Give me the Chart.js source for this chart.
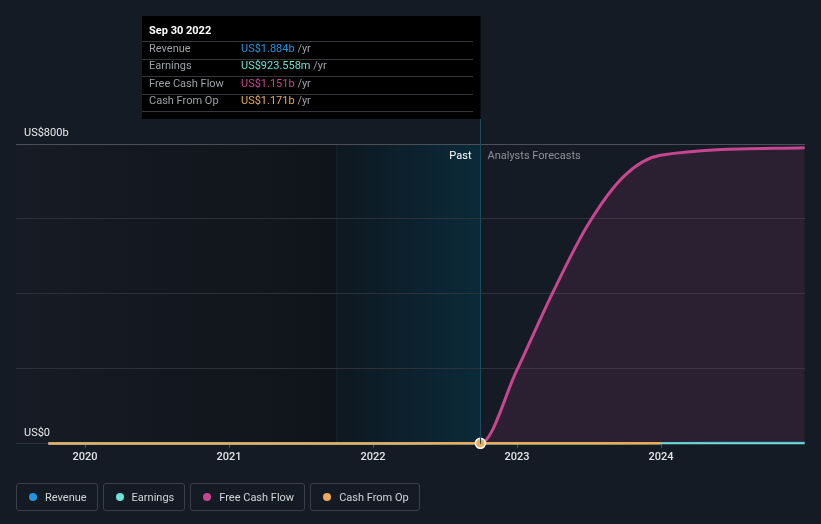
<!DOCTYPE html>
<html>
<head>
<meta charset="utf-8">
<script src="https://cdn.jsdelivr.net/npm/chart.js@4.4.1/dist/chart.umd.min.js"></script>
<style>
  html, body { margin: 0; padding: 0; background: #151b25; }
  #wrap { position: relative; width: 821px; height: 524px; font-family: Roboto, "Noto Sans", sans-serif; }
  #legend { position: absolute; left: 16px; top: 483px; display: flex; gap: 5px; }
  .item { box-sizing: border-box; height: 28px; border: 1px solid #3a3f48; border-radius: 3px;
          display: flex; align-items: center; padding: 0 10px 0 12px; color: #d2d5d9; font-size: 11px; }
  .dot { width: 8px; height: 8px; border-radius: 50%; margin-right: 8px; }
</style>
</head>
<body>
<div id="wrap">
  <canvas id="myChart" width="821" height="524"></canvas>
  <div id="legend"></div>
</div>
<script>
// series (values in US$ billions)
var pastDates = ['2019-09-30','2019-12-31','2020-03-31','2020-06-30','2020-09-30','2020-12-31',
                 '2021-03-31','2021-06-30','2021-09-30','2021-12-31','2022-03-31','2022-06-30','2022-09-30'];
var revenuePast  = [1.21, 1.25, 1.29, 1.33, 1.38, 1.45, 1.52, 1.60, 1.67, 1.74, 1.80, 1.85, 1.884];
var earningsPast = [0.52, 0.55, 0.57, 0.60, 0.63, 0.67, 0.71, 0.76, 0.80, 0.84, 0.88, 0.90, 0.923558];
var fcfPast      = [0.70, 0.73, 0.76, 0.79, 0.83, 0.88, 0.93, 0.98, 1.02, 1.06, 1.10, 1.13, 1.151];
var cfoPast      = [0.72, 0.75, 0.78, 0.81, 0.85, 0.90, 0.95, 1.00, 1.04, 1.08, 1.12, 1.15, 1.171];

var revenueFcDates  = ['2022-12-31','2023-12-31','2024-12-31'];
var revenueFc       = [2.05, 2.45, 2.85];
var earningsFcDates = ['2022-12-31','2023-12-31','2024-12-31'];
var earningsFc      = [1.00, 1.18, 1.36];
var fcfFcDates      = ['2022-12-31','2023-03-31','2023-06-30','2023-09-30','2023-12-31','2024-12-31'];
var fcfFc           = [195, 400, 585, 715, 770, 790];
var cfoFcDates      = ['2022-12-31','2023-12-31'];
var cfoFc           = [1.30, 1.50];

var xTicks = [2020, 2021, 2022, 2023, 2024];
var yTicks = [0, 200, 400, 600, 800];

var colors = {revenue: '#2394df', earnings: '#6ce3d4', fcf: '#c7468f', cfo: '#e9ac5d'};
var legendNames = ['Revenue', 'Earnings', 'Free Cash Flow', 'Cash From Op'];

function yearFrac(s) {
  var p = s.split('-').map(Number);
  var start = Date.UTC(p[0], 0, 1), end = Date.UTC(p[0] + 1, 0, 1);
  return p[0] + (Date.UTC(p[0], p[1] - 1, p[2]) - start) / (end - start);
}
function pts(dates, vals) {
  return dates.map(function (d, i) { return {x: yearFrac(d), y: vals[i]}; });
}

var pastEnd = yearFrac(pastDates[pastDates.length - 1]);
var hiStart = yearFrac('2021-09-30');
var last = pastDates.length - 1;

function fmt(v) {
  return v < 1 ? 'US$' + (v * 1000).toFixed(3) + 'm' : 'US$' + v.toFixed(3) + 'b';
}

var bgPlugin = {
  id: 'bg',
  beforeDraw: function (chart) {
    var c = chart.ctx, a = chart.chartArea, x = chart.scales.x;
    c.save();
    c.fillStyle = '#151b25';
    c.fillRect(0, 0, chart.width, chart.height);
    var xh = x.getPixelForValue(hiStart), xp = x.getPixelForValue(pastEnd);
    var g = c.createLinearGradient(a.left, 0, xh, 0);
    g.addColorStop(0, '#161b25');
    g.addColorStop(1, '#10141a');
    c.fillStyle = g;
    c.fillRect(a.left, a.top, xh - a.left, a.bottom - a.top);
    var g2 = c.createLinearGradient(xh, 0, xp, 0);
    g2.addColorStop(0, '#0e1820');
    g2.addColorStop(1, '#0b2a39');
    c.fillStyle = g2;
    c.fillRect(xh, a.top, xp - xh, a.bottom - a.top);
    c.fillStyle = 'rgba(40,80,100,0.25)';
    c.fillRect(xh, a.top, 1, a.bottom - a.top);
    c.restore();
  }
};

var overlayPlugin = {
  id: 'overlay',
  afterDraw: function (chart) {
    var c = chart.ctx, a = chart.chartArea, x = chart.scales.x;
    var xp = Math.round(x.getPixelForValue(pastEnd)) + 0.5;
    c.save();
    // past / forecast labels
    c.font = '11px Roboto';
    c.textBaseline = 'middle';
    c.textAlign = 'right';
    c.fillStyle = '#ffffff';
    c.fillText('Past', xp - 9, a.top + 12);
    c.textAlign = 'left';
    c.fillStyle = '#8c9198';
    c.fillText('Analysts Forecasts', xp + 7, a.top + 12);
    // tooltip box
    var bx = 142, by = 16, bw = xp - 142, bh = 103;
    c.fillStyle = '#000000';
    c.fillRect(bx, by, bw, bh);
    c.strokeStyle = '#1d4a5a';
    c.lineWidth = 1;
    c.beginPath();
    c.moveTo(xp, by + bh);
    c.lineTo(xp, a.bottom);
    c.stroke();
    c.font = 'bold 11px Roboto';
    c.fillStyle = '#ffffff';
    c.textAlign = 'left';
    c.fillText('Sep 30 2022', bx + 7, by + 15.5);
    var rows = [
      ['Revenue', revenuePast[last], colors.revenue],
      ['Earnings', earningsPast[last], colors.earnings],
      ['Free Cash Flow', fcfPast[last], colors.fcf],
      ['Cash From Op', cfoPast[last], colors.cfo]
    ];
    c.font = '11px Roboto';
    c.strokeStyle = '#34373c';
    for (var i = 0; i <= rows.length; i++) {
      var ly = Math.round(by + 33 + i * 17.5 - 8) + 0.5;
      c.beginPath();
      c.moveTo(bx, ly);
      c.lineTo(bx + 331, ly);
      c.stroke();
    }
    rows.forEach(function (r, i) {
      var ry = by + 33 + i * 17.5;
      c.fillStyle = '#9da1a6';
      c.fillText(r[0], bx + 7, ry);
      var v = fmt(r[1]);
      c.fillStyle = r[2];
      c.fillText(v, bx + 99, ry);
      c.fillStyle = '#9da1a6';
      c.fillText(' /yr', bx + 99 + c.measureText(v).width, ry);
    });
    c.restore();
  }
};

function line(label, data, color, width, extra) {
  var d = {
    label: label, data: data, borderColor: color, backgroundColor: color,
    borderWidth: width, pointRadius: 0, pointHoverRadius: 0, fill: false,
    cubicInterpolationMode: 'monotone', clip: false
  };
  for (var k in extra) d[k] = extra[k];
  return d;
}

var ctx = document.getElementById('myChart').getContext('2d');
var chart = new Chart(ctx, {
  type: 'line',
  data: {
    datasets: [
      line('Cash From Op', pts(pastDates, cfoPast).concat(pts(cfoFcDates, cfoFc)), colors.cfo, 2.5, {
        pointRadius: function (c) { return c.dataIndex === last ? 5 : 0; },
        pointBorderColor: '#ffffff', pointBorderWidth: 1.5, pointBackgroundColor: colors.cfo
      }),
      line('Free Cash Flow', pts(pastDates, fcfPast).concat(pts(fcfFcDates, fcfFc)), colors.fcf, 3, {
        segment: {
          borderWidth: function (s) { return s.p1.parsed.x <= pastEnd + 0.001 ? 1 : undefined; }
        },
        fill: 'origin',
        backgroundColor: function (c) {
          var ch = c.chart, a = ch.chartArea;
          if (!a) return 'rgba(199,70,143,0.12)';
          var xp = ch.scales.x.getPixelForValue(pastEnd);
          var g = ch.ctx.createLinearGradient(a.left, 0, a.right, 0);
          var s = (xp - a.left) / (a.right - a.left);
          g.addColorStop(0, 'rgba(199,70,143,0)');
          g.addColorStop(s, 'rgba(199,70,143,0)');
          g.addColorStop(Math.min(1, s + 0.0001), 'rgba(199,70,143,0.12)');
          g.addColorStop(1, 'rgba(199,70,143,0.12)');
          return g;
        }
      }),
      line('Earnings', pts(pastDates, earningsPast).concat(pts(earningsFcDates, earningsFc)), colors.earnings, 2),
      line('Revenue', pts(pastDates, revenuePast).concat(pts(revenueFcDates, revenueFc)), colors.revenue, 2)
    ]
  },
  options: {
    responsive: false,
    animation: false,
    devicePixelRatio: 1,
    layout: {padding: {left: 16, right: 16, top: 144, bottom: 57}},
    plugins: {legend: {display: false}, tooltip: {enabled: false}},
    scales: {
      x: {
        type: 'linear', min: 2019.52, max: 2025.0,
        afterBuildTicks: function (s) { s.ticks = xTicks.map(function (v) { return {value: v}; }); },
        ticks: {
          color: '#e3e5e8', font: {family: 'Roboto', size: 11, weight: '500'}, padding: 3,
          callback: function (v) { return String(v); }
        },
        grid: {drawOnChartArea: false, drawTicks: true, tickLength: 4, color: '#50555d'},
        border: {display: false}
      },
      y: {
        min: 0, max: 800,
        afterFit: function (s) { s.width = 0; },
        afterBuildTicks: function (s) { s.ticks = yTicks.map(function (v) { return {value: v}; }); },
        ticks: {
          mirror: true, padding: 8, labelOffset: -11, color: '#e8e9eb',
          font: {family: 'Roboto', size: 11},
          callback: function (v) { return v === 0 ? 'US$0' : (v === 800 ? 'US$800b' : ''); }
        },
        grid: {
          drawTicks: false,
          color: function (c) { return c.tick && c.tick.value === 800 ? '#4b5058' : '#2c313a'; }
        },
        border: {display: false}
      }
    }
  },
  plugins: [bgPlugin, overlayPlugin]
});

// legend
var legendColors = [colors.revenue, colors.earnings, colors.fcf, colors.cfo];
var lg = document.getElementById('legend');
legendNames.forEach(function (n, i) {
  var el = document.createElement('div');
  el.className = 'item';
  el.innerHTML = '<span class="dot" style="background:' + legendColors[i] + '"></span>' + n;
  lg.appendChild(el);
});
</script>
</body>
</html>
